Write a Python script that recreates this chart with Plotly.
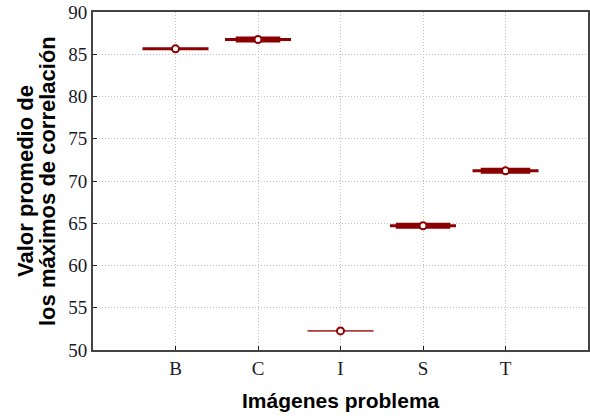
import plotly.graph_objects as go

categories = ["B", "C", "I", "S", "T"]
means = [85.65, 86.75, 52.25, 64.7, 71.2]
# center marker (outlier) position per category
marker_vals = [85.65, 86.75, 52.25, 64.7, 71.2]
y_ticks = [50, 55, 60, 65, 70, 75, 80, 85, 90]

COL = "#8B0000"
fig = go.Figure()

outer_half = 0.4
inner_half = [0.0, 0.27, 0.0, 0.33, 0.3]
line_w = [3, 3, 1.6, 3, 3]
line_col = [COL, COL, "#b03a3a", COL, COL]

for i, (c, m) in enumerate(zip(categories, means)):
    fig.add_trace(go.Scatter(x=[i - outer_half, i + outer_half], y=[m, m], mode="lines",
                             line=dict(color=line_col[i], width=line_w[i]), showlegend=False,
                             hoverinfo="skip"))
    if inner_half[i] > 0:
        fig.add_trace(go.Scatter(x=[i - inner_half[i], i + inner_half[i]], y=[m, m], mode="lines",
                                 line=dict(color=COL, width=6), showlegend=False, hoverinfo="skip"))

fig.add_trace(go.Scatter(x=list(range(len(categories))), y=marker_vals, mode="markers",
                         marker=dict(symbol="circle", size=7, color="white",
                                     line=dict(color=COL, width=2)),
                         showlegend=False))

tickfont = dict(family="Liberation Serif", size=19, color="#1a1a2a")
grid = dict(showgrid=True, gridcolor="#bdbdbd", griddash="1px,2px", gridwidth=1,
            showline=True, linecolor="#444444", linewidth=2, mirror=True,
            ticks="inside", ticklen=4, tickcolor="#222222", zeroline=False,
            tickfont=tickfont, ticklabeloverflow="allow", automargin=False)
fig.update_layout(
    width=590, height=419,
    margin=dict(l=93, r=2, t=12, b=69),
    paper_bgcolor="white", plot_bgcolor="white",
    xaxis=dict(range=[-1, 5], tickvals=list(range(len(categories))), ticktext=categories, **grid),
    yaxis=dict(range=[49.99, 90.01], tickvals=y_ticks, **grid),
    annotations=[
        dict(text="<b>Valor promedio de</b>", textangle=-90, xref="paper", yref="paper",
             x=0, y=0.5, xanchor="center", yanchor="middle", xshift=-93 + 25, showarrow=False,
             font=dict(family="Liberation Sans", size=22, color="black")),
        dict(text="<b>los máximos de correlación</b>", textangle=-90, xref="paper", yref="paper",
             x=0, y=0.5, xanchor="center", yanchor="middle", xshift=-93 + 47, showarrow=False,
             font=dict(family="Liberation Sans", size=22, color="black")),
        dict(text="<b>Imágenes problema</b>", xref="paper", yref="paper",
             x=0.5, y=0, xanchor="center", yanchor="middle", yshift=-50, showarrow=False,
             font=dict(family="Liberation Sans", size=21, color="black")),
    ],
)

fig.write_html("out.html")
